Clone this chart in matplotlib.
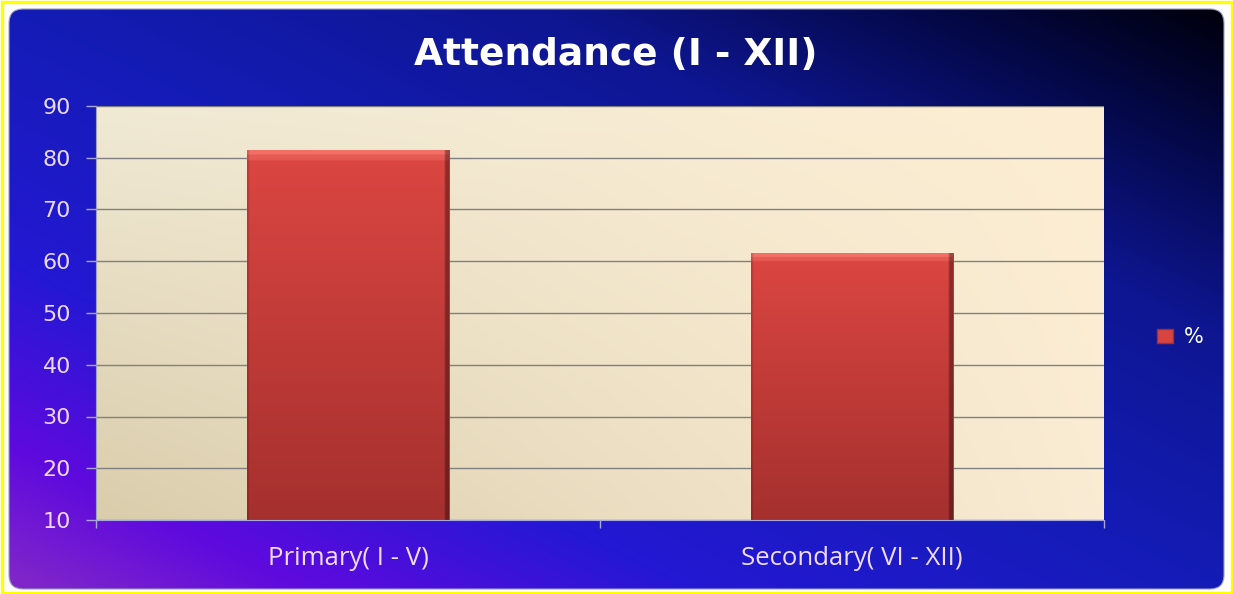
import numpy as np
import matplotlib
matplotlib.use('Agg')
import matplotlib.pyplot as plt
from matplotlib.patches import FancyBboxPatch, Rectangle, Patch
from matplotlib.ticker import FixedLocator

# ---- data ----
categories = ['Primary( I - V)', 'Secondary( VI - XII)']
values = [81.5, 61.5]
series_name = '%'
title_text = 'Attendance (I - XII)'
yticks = [10, 20, 30, 40, 50, 60, 70, 80, 90]

W, H = 1233, 594
fig = plt.figure(figsize=(W / 100, H / 100), dpi=100, facecolor='white')

# ---- background layer in pixel coordinates ----
bg = fig.add_axes([0, 0, 1, 1])
bg.set_xlim(0, W)
bg.set_ylim(H, 0)
bg.axis('off')

ny, nx = 120, 240
u = np.linspace(0, 1, nx)[None, :]
v = np.linspace(0, 1, ny)[:, None]
t = ((1 - u) + v) / 2.0
stops = np.array([0.0, 0.12, 0.28, 0.5, 0.72, 0.88, 1.0])
cols = np.array([
    [0, 0, 12],
    [4, 8, 70],
    [14, 22, 145],
    [20, 28, 182],
    [36, 24, 212],
    [95, 10, 222],
    [130, 40, 200],
]) / 255.0
img = np.zeros((ny, nx, 3))
for c in range(3):
    img[..., c] = np.interp(t, stops, cols[:, c])

panel = FancyBboxPatch((9, 9), 1215, 580, boxstyle='round,pad=0,rounding_size=14',
                       facecolor='none', edgecolor='#9aa0c0', linewidth=0.8, zorder=2)
bg.add_patch(panel)
im = bg.imshow(img, extent=(9, 1224, 589, 9), aspect='auto', zorder=1, interpolation='bilinear')
im.set_clip_path(panel)
bg.add_patch(Rectangle((1.5, 1.5), W - 3, H - 3, fill=False, edgecolor='#ffff00',
                       linewidth=2.4, zorder=3))
bg.set_xlim(0, W)
bg.set_ylim(H, 0)

# ---- main axes ----
ax = fig.add_axes([96 / W, 1 - 520 / H, 1008 / W, 414 / H])
ax.patch.set_alpha(0)

py, px = 60, 120
uu = np.linspace(0, 1, px)[None, :]
vv = np.linspace(0, 1, py)[:, None]
TL = np.array([240, 233, 212]) / 255
TR = np.array([253, 238, 210]) / 255
BL = np.array([218, 205, 172]) / 255
BR = np.array([250, 236, 212]) / 255
pa = ((1 - uu)[..., None] * (1 - vv)[..., None] * TL + uu[..., None] * (1 - vv)[..., None] * TR
      + (1 - uu)[..., None] * vv[..., None] * BL + uu[..., None] * vv[..., None] * BR)
x = np.arange(len(categories))
ax.imshow(pa, extent=(-0.5, len(categories) - 0.5, yticks[0], yticks[-1]), aspect='auto',
          zorder=0, interpolation='bilinear')

bars = ax.bar(x, values, width=0.4, color='#d54440', edgecolor='#9a3030', linewidth=0.6, zorder=2)

by, bx = 200, 100
vy = np.linspace(0, 1, by)[:, None]
top_c = np.array([220, 70, 66]) / 255
bot_c = np.array([165, 48, 46]) / 255
bimg = (1 - vy)[..., None] * top_c + vy[..., None] * bot_c
bimg = np.repeat(bimg, bx, axis=1)
bimg[:3, :, :] = np.array([242, 112, 102]) / 255
bimg[3:6, :, :] = np.array([230, 90, 84]) / 255
bimg[:, -2:, :] *= 0.65
bimg[:, :1, :] *= 0.85
for b in bars:
    x0, y0, w, h = b.get_x(), b.get_y(), b.get_width(), b.get_height()
    top_v = y0 + h
    bi = ax.imshow(bimg, extent=(x0, x0 + w, yticks[0], top_v), aspect='auto', zorder=2.1,
                   interpolation='bilinear')
    bi.set_clip_path(b)

ax.set_xlim(-0.5, len(categories) - 0.5)
ax.set_ylim(yticks[0], yticks[-1])
ax.set_yticks(yticks)
ax.yaxis.grid(True, color='#808080', linewidth=1.0)
for gl in ax.get_ygridlines():
    gl.set_zorder(1)

ax.set_xticks(x)
ax.set_xticklabels(categories)
ax.xaxis.set_minor_locator(FixedLocator(np.arange(-0.5, len(categories), 1.0)))
ax.tick_params(axis='x', which='major', length=0, pad=19, labelsize=18.5, labelcolor='#f0dcf5')
ax.tick_params(axis='x', which='minor', length=6, color='#a8a8e0', width=1)
ax.tick_params(axis='y', length=7, color='#a8a8d8', width=1, pad=11, labelsize=16,
               labelcolor='#ecd8f4')

for s in ['top', 'right']:
    ax.spines[s].set_visible(False)
ax.spines['left'].set_color('#a0a0c0')
ax.spines['bottom'].set_color('#a8a8e0')
ax.spines['left'].set_zorder(3)
ax.spines['bottom'].set_zorder(3)

for lab in ax.get_xticklabels():
    lab.set_fontfamily('Open Sans')
for lab in ax.get_yticklabels():
    lab.set_fontfamily('DejaVu Sans')

fig.text(616 / W, 1 - 55 / H, title_text, ha='center', va='center', color='white',
         fontsize=27, fontweight='bold', fontfamily='DejaVu Sans')

fig.legend(handles=[Patch(facecolor='#d8443f', edgecolor='#a03030')], labels=[series_name],
           loc='center left', bbox_to_anchor=(1138 / W, 1 - 337 / H), frameon=False,
           labelcolor='white', prop={'family': 'DejaVu Sans', 'size': 15},
           handlelength=0.8, handleheight=0.65, handletextpad=0.5)

fig.savefig('out.png', dpi=100, facecolor='white')
